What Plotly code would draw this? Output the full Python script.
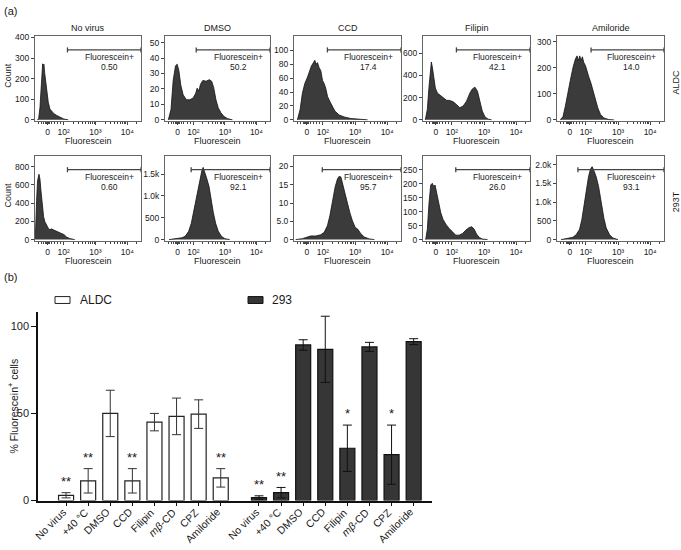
import math
import plotly.graph_objects as go

W, H = 681, 550

# ---------------- (a) flow cytometry histograms ----------------
# Fluorescence on the biexponential display axis (0 -> 1.5, 10^2 -> 2, 10^3 -> 3, 10^4 -> 4)
panel_titles = ["No virus", "DMSO", "CCD", "Filipin", "Amiloride"]
row_labels = ["ALDC", "293T"]

aldc_novirus_fl = [1.173, 1.215, 1.256, 1.288, 1.319, 1.34, 1.36, 1.381, 1.402, 1.433, 1.465, 1.517, 1.569, 1.631, 1.694, 1.798, 1.902, 2.006, 2.142]
aldc_novirus_count = [0, 5, 60, 170, 250, 272, 262, 270, 230, 190, 150, 85, 52, 40, 30, 20, 10, 4, 0]

aldc_dmso_fl = [1.206, 1.29, 1.36, 1.434, 1.487, 1.54, 1.60, 1.675, 1.778, 1.88, 1.988, 2.07, 2.12, 2.175, 2.225, 2.30, 2.403, 2.506, 2.58, 2.643, 2.716, 2.788, 2.872, 2.975, 3.08, 3.24]
aldc_dmso_count = [0, 6.7, 25.6, 35, 36, 31.9, 22.5, 16.2, 13, 13, 14, 17, 20.5, 18.6, 23, 25.5, 25, 26, 25, 21, 13, 7.8, 4.6, 2.1, 0.8, 0]

aldc_ccd_fl = [1.206, 1.29, 1.36, 1.434, 1.519, 1.59, 1.644, 1.706, 1.747, 1.79, 1.83, 1.88, 1.934, 1.987, 2.04, 2.09, 2.144, 2.216, 2.30, 2.372, 2.506, 2.66, 2.87, 3.18, 3.39]
aldc_ccd_count = [0, 14.9, 38, 52, 61.4, 70.7, 77.7, 82.3, 85.6, 80, 82.3, 75.3, 70.7, 56.7, 52, 45, 33.5, 26.5, 19.5, 12.6, 7, 4.2, 1.9, 0.5, 0]

aldc_filipin_fl = [1.173, 1.235, 1.288, 1.33, 1.36, 1.39, 1.434, 1.485, 1.547, 1.62, 1.725, 1.83, 1.934, 2.04, 2.14, 2.247, 2.35, 2.455, 2.56, 2.63, 2.715, 2.797, 2.87, 2.944, 3.03, 3.13, 3.235]
aldc_filipin_count = [0, 94, 300, 476, 520, 476, 359, 285, 241, 226, 197, 176, 174, 162, 138, 109, 124, 168, 241, 276, 294, 256, 168, 79, 26, 6, 0]

aldc_amiloride_fl = [1.203, 1.287, 1.36, 1.43, 1.516, 1.60, 1.672, 1.725, 1.766, 1.807, 1.85, 1.89, 1.932, 1.985, 2.04, 2.09, 2.16, 2.225, 2.297, 2.37, 2.453, 2.556, 2.713, 2.87]
aldc_amiloride_count = [0, 12.5, 52.5, 102.5, 152.5, 202.5, 233.8, 246, 227.5, 246, 227.5, 242.5, 221, 208.8, 190, 165, 140, 109, 77.5, 46, 21, 7.5, 1, 0]

t293_novirus_fl = [1.10, 1.12, 1.15, 1.18, 1.225, 1.256, 1.287, 1.328, 1.37, 1.41, 1.463, 1.516, 1.57, 1.62, 1.672, 1.725, 1.828, 1.93, 2.016, 2.09, 2.194, 2.35]
t293_novirus_count = [110, 108, 430, 645, 717, 663, 538, 358, 251, 197, 161, 125, 108, 118, 108, 100, 90, 72, 54, 29, 11, 0]

t293_dmso_fl = [1.226, 1.434, 1.644, 1.747, 1.85, 1.934, 2.006, 2.08, 2.143, 2.216, 2.27, 2.31, 2.35, 2.425, 2.497, 2.56, 2.63, 2.706, 2.79, 2.894, 3.0, 3.153]
t293_dmso_count = [0, 22, 44, 80, 190, 373, 629, 922, 1105, 1361, 1580, 1653, 1543, 1397, 1214, 922, 629, 373, 190, 73, 22, 0]

t293_ccd_fl = [1.152, 1.36, 1.516, 1.62, 1.778, 1.934, 2.04, 2.14, 2.216, 2.297, 2.38, 2.453, 2.506, 2.56, 2.61, 2.694, 2.766, 2.84, 2.92, 3.006, 3.08, 3.18, 3.29, 3.44, 3.6]
t293_ccd_count = [0, 0.27, 0.7, 1.0, 1.0, 1.33, 2.0, 3.8, 6.5, 10.9, 14.4, 16.6, 17.3, 17.1, 15.3, 12.6, 10.4, 7.3, 5.1, 3.3, 2.9, 1.6, 0.7, 0.2, 0]

t293_filipin_fl = [1.184, 1.235, 1.288, 1.34, 1.39, 1.434, 1.475, 1.516, 1.58, 1.653, 1.725, 1.81, 1.913, 2.016, 2.12, 2.225, 2.33, 2.434, 2.538, 2.62, 2.694, 2.766, 2.85, 2.954, 3.11]
t293_filipin_count = [0, 37, 131, 195, 201, 189, 195, 171, 131, 96, 72, 55, 40, 26, 16, 16, 22, 34, 43, 46, 37, 20, 8, 2, 0]

t293_amiloride_fl = [1.226, 1.434, 1.59, 1.694, 1.80, 1.872, 1.934, 2.006, 2.08, 2.143, 2.194, 2.247, 2.32, 2.394, 2.475, 2.56, 2.63, 2.737, 2.84, 2.997]
t293_amiloride_count = [0, 26, 60, 128, 272, 528, 911, 1336, 1677, 1889, 1949, 1847, 1677, 1421, 996, 570, 315, 128, 43, 0]

hist_fl = [aldc_novirus_fl, aldc_dmso_fl, aldc_ccd_fl, aldc_filipin_fl, aldc_amiloride_fl,
           t293_novirus_fl, t293_dmso_fl, t293_ccd_fl, t293_filipin_fl, t293_amiloride_fl]
hist_count = [aldc_novirus_count, aldc_dmso_count, aldc_ccd_count, aldc_filipin_count, aldc_amiloride_count,
              t293_novirus_count, t293_dmso_count, t293_ccd_count, t293_filipin_count, t293_amiloride_count]

gate_start = [2.12, 2.09, 2.14, 2.14, 2.16, 2.12, 1.93, 1.98, 2.12, 1.75]
gate_pct = ["0.50", "50.2", "17.4", "42.1", "14.0", "0.60", "92.1", "95.7", "26.0", "93.1"]

fl_tick_vals = [1.5, 2, 3, 4]
fl_tick_text = ["0", "10²", "10³", "10⁴"]

count_tick_vals = [[0, 100, 200, 300, 400], [0, 10, 20, 30, 40, 50], [0, 20, 40, 60, 80, 100], [0, 200, 400, 600], [0, 100, 200, 300],
                   [0, 200, 400, 600, 800], [0, 500, 1000, 1500], [0, 5, 10, 15, 20], [0, 50, 100, 150, 200, 250], [0, 500, 1000, 1500, 2000]]
count_tick_text = [["0", "100", "200", "300", "400"], ["0", "10", "20", "30", "40", "50"], ["0", "20", "40", "60", "80", "100"],
                   ["0", "200", "400", "600"], ["0", "100", "200", "300"],
                   ["0", "200", "400", "600", "800"], ["0", "500", "1.0k", "1.5k"], ["0", "5.0", "10", "15", "20"],
                   ["0", "50", "100", "150", "200", "250"], ["0", "500", "1.0k", "1.5k", "2.0k"]]
count_top = [405, 54, 120, 750, 321, 915, 1910, 22.8, 298, 2230]

# ---------------- (b) bar chart ----------------
treatments_b = ["No virus", "+40 °C", "DMSO", "CCD", "Filipin", "<i>mβ</i>-CD", "CPZ", "Amiloride"]
aldc_pct = [3.0, 11.3, 50.0, 11.3, 45.0, 48.3, 49.6, 13.0]
aldc_sd = [1.5, 7.0, 13.3, 7.0, 5.0, 10.5, 8.2, 5.3]
aldc_sig = ["**", "**", "", "**", "", "", "", "**"]
t293_pct = [1.7, 4.5, 89.3, 86.8, 30.0, 88.2, 26.3, 91.2]
t293_sd = [1.0, 3.0, 3.0, 19.0, 13.3, 2.6, 17.0, 1.7]
t293_sig = ["**", "**", "", "", "*", "", "*", ""]

FONT = "Liberation Sans, Arial, Helvetica, DejaVu Sans, sans-serif"
INK = "#1a1a1a"
fig = go.Figure()
layout = dict(width=W, height=H, margin=dict(l=0, r=0, t=0, b=0), paper_bgcolor="white",
              plot_bgcolor="white", showlegend=False, font=dict(family=FONT, color=INK))
shapes, annotations = [], []


def note(text, x, y, xref="paper", yref="paper", size=9, xanchor="center", yanchor="middle", angle=0, xshift=0):
    annotations.append(dict(text=text, x=x, y=y, xref=xref, yref=yref, xanchor=xanchor, yanchor=yanchor,
                            textangle=angle, xshift=xshift, showarrow=False, font=dict(size=size, color=INK)))


col_px = [(35, 141), (165, 270), (294, 401), (423, 530), (557, 664)]
row_px = [(33, 119), (155, 241)]
minor_vals = [1.22, 1.3, 1.38, 1.43, 1.45, 1.47, 1.49, 1.51, 1.53, 1.55, 1.62, 1.7, 1.8, 1.9]
minor_vals += [n + math.log10(k) for n in (2, 3, 4) for k in range(2, 10) if n + math.log10(k) < 4.43]

for i in range(10):
    r, c = divmod(i, 5)
    s = "" if i == 0 else str(i + 1)
    x0, x1 = col_px[c]
    y0, y1 = row_px[r]
    fig.add_trace(go.Scatter(x=hist_fl[i], y=hist_count[i], mode="lines", fill="tozeroy",
                             fillcolor="#3b3b3b", line=dict(color="#111", width=0.8),
                             xaxis="x" + s, yaxis="y" + s, hoverinfo="skip"))
    layout["xaxis" + s] = dict(domain=[x0 / W, x1 / W], anchor="y" + s, range=[1.1, 4.43],
                               tickmode="array", tickvals=fl_tick_vals, ticktext=fl_tick_text,
                               ticks="outside", ticklen=3, tickwidth=1, tickcolor="#444",
                               showline=True, linecolor="#666", linewidth=1, mirror=True,
                               showgrid=False, zeroline=False, tickfont=dict(size=8.5, color=INK),
                               minor=dict(tickmode="array", tickvals=minor_vals, ticks="outside",
                                          ticklen=2, tickcolor="#444", showgrid=False))
    top = count_top[i]
    layout["yaxis" + s] = dict(domain=[1 - y1 / H, 1 - y0 / H], anchor="x" + s, range=[-0.012 * top, top],
                               tickmode="array", tickvals=count_tick_vals[i], ticktext=count_tick_text[i],
                               ticks="outside", ticklen=3, tickwidth=1, tickcolor="#444",
                               showline=True, linecolor="#666", linewidth=1, mirror=True,
                               showgrid=False, zeroline=False, tickfont=dict(size=8.5, color=INK))
    xr, yd = "x" + s, "y" + s + " domain"
    gs = gate_start[i]
    shapes.append(dict(type="line", xref=xr, yref=yd, x0=gs, x1=4.43, y0=0.84, y1=0.84,
                       line=dict(color="#444", width=1.3)))
    for xc in (gs, 4.43):
        shapes.append(dict(type="line", xref=xr, yref=yd, x0=xc, x1=xc, y0=0.81, y1=0.87,
                           line=dict(color="#444", width=1.3)))
    note("Fluorescein+", 0.70, 0.755, xref="x" + s + " domain", yref=yd, size=8.5)
    note(gate_pct[i], 0.70, 0.64, xref="x" + s + " domain", yref=yd, size=8.5)
    note("Fluorescein", 0.5, 1 - (y1 + 21) / H, xref="x" + s + " domain", size=9)
    if r == 0:
        note(panel_titles[c], 0.5, 1 - 24 / H, xref="x" + s + " domain", size=9)
    if c == 0:
        note("Count", 8 / W, 1 - ((y0 + y1) / 2 - 3) / H, size=9, angle=-90)

for r in range(2):
    y0, y1 = row_px[r]
    note(row_labels[r], 676 / W, 1 - ((y0 + y1) / 2 + 4) / H, size=9, angle=-90)

note("(a)", 2 / W, 1 - 7 / H, xanchor="left", size=11)
note("(b)", 2 / W, 1 - 278 / H, xanchor="left", size=11)

# ---------------- bar chart ----------------
pos_aldc = [float(k) for k in range(8)]
pos_293 = [8.73 + k for k in range(8)]
fig.add_trace(go.Bar(x=pos_aldc, y=aldc_pct, width=0.68, name="ALDC",
                     marker=dict(color="white", line=dict(color="#222", width=1.2)),
                     error_y=dict(type="data", array=aldc_sd, color="#333", thickness=1, width=4.5),
                     xaxis="x11", yaxis="y11", hoverinfo="skip"))
fig.add_trace(go.Bar(x=pos_293, y=t293_pct, width=0.68, name="293",
                     marker=dict(color="#363636", line=dict(color="#111", width=1.2)),
                     error_y=dict(type="data", array=t293_sd, color="#111", thickness=1, width=4.5),
                     xaxis="x11", yaxis="y11", hoverinfo="skip"))

layout["xaxis11"] = dict(domain=[38 / W, 432 / W], anchor="y11", range=[-1.27, 16.56],
                         tickmode="array", tickvals=pos_aldc + pos_293, showticklabels=False,
                         ticks="outside", ticklen=4, tickcolor="#111",
                         showline=True, linecolor="#111", linewidth=1.5, showgrid=False, zeroline=False)
layout["yaxis11"] = dict(domain=[1 - 505.7 / H, 1 - 314.1 / H], anchor="x11", range=[0, 108],
                         tickmode="array", tickvals=[0, 50, 100], ticks="outside", ticklen=5, tickcolor="#111",
                         showline=True, linecolor="#111", linewidth=1.5, showgrid=False, zeroline=False,
                         tickfont=dict(size=11, color=INK))
note("% Fluorescein<sup>+</sup> cells", 13 / W, 1 - 410 / H, size=10.5, angle=-90)

# rotated category labels, ending at each tick
for xp, lab in zip(pos_aldc + pos_293, treatments_b + treatments_b):
    note(lab, xp, 1 - 508 / H, xref="x11", size=10.5, xanchor="right", yanchor="top", angle=-45, xshift=5)

for xs, vals, sds, sigs in ((pos_aldc, aldc_pct, aldc_sd, aldc_sig), (pos_293, t293_pct, t293_sd, t293_sig)):
    for xp, v, e, sg in zip(xs, vals, sds, sigs):
        if sg:
            note(sg, xp, v + e + 1.0, xref="x11", yref="y11", size=13, yanchor="bottom")

# legend
shapes.append(dict(type="rect", xref="paper", yref="paper", x0=55 / W, x1=70 / W, y0=1 - 305 / H, y1=1 - 298 / H,
                   line=dict(color="#222", width=1), fillcolor="white"))
note("ALDC", 78 / W, 1 - 301.5 / H, xanchor="left", size=12)
shapes.append(dict(type="rect", xref="paper", yref="paper", x0=248 / W, x1=263 / W, y0=1 - 305 / H, y1=1 - 298 / H,
                   line=dict(color="#111", width=1), fillcolor="#363636"))
note("293", 270 / W, 1 - 301.5 / H, xanchor="left", size=12)

layout["shapes"] = shapes
layout["annotations"] = annotations
fig.update_layout(**layout)
fig.write_html("out.html", config={"displayModeBar": False},
               post_script="document.body.style.margin='0';document.body.style.overflow='hidden';")
